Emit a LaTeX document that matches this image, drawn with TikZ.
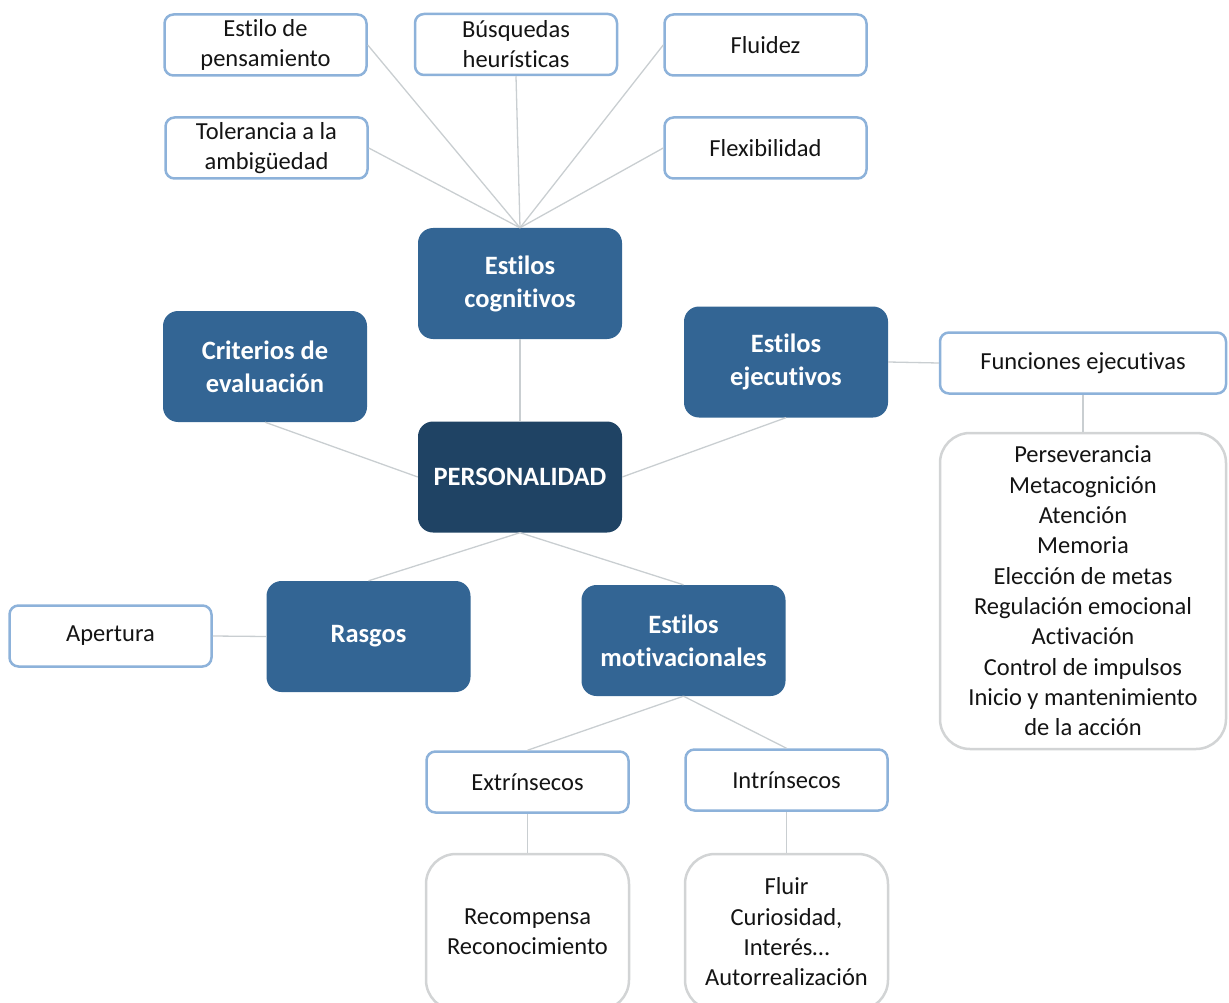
\documentclass[tikz,border=0pt]{standalone}
\usepackage{fontspec}
\setmainfont{Carlito}[Ligatures={NoCommon,NoContextual}]
\definecolor{darkfill}{HTML}{336594}
\definecolor{centerfill}{HTML}{1F4364}
\definecolor{lightborder}{HTML}{8DB2DA}
\definecolor{grayborder}{HTML}{D2D4D5}
\definecolor{linkgray}{HTML}{C9CED1}
\begin{document}
\begin{tikzpicture}[x=1pt,y=-1pt,
  lightbox/.style={draw=lightborder,line width=2.5pt,fill=white,rounded corners=9pt,
    minimum width=202pt,minimum height=61pt,inner sep=0pt,align=center,
    font=\fontsize{24.5}{30}\selectfont,text=black!92},
  darkbox/.style={fill=darkfill,rounded corners=15pt,minimum width=204pt,minimum height=111pt,
    inner sep=0pt,align=center,text=white,font=\fontsize{26.5}{33}\selectfont\bfseries},
  graybox/.style={draw=grayborder,line width=2.5pt,fill=white,rounded corners=30pt,
    inner sep=0pt,align=center,font=\fontsize{24.5}{30.3}\selectfont,text=black!92},
  link/.style={draw=linkgray,line width=1.3pt}]
\useasboundingbox (0,0) rectangle (1229,1003);
\node[lightbox] (pens) at (265.5,45) {Estilo de\\pensamiento};
\node[lightbox] (busq) at (516,44.5) {Búsquedas\\heurísticas};
\node[lightbox] (flui) at (765.5,45) {Fluidez};
\node[lightbox] (tole) at (266.5,148) {Tolerancia a la\\ambigüedad};
\node[lightbox] (flex) at (765.5,148) {Flexibilidad};
\node[darkbox] (cogn) at (520,283.5) {Estilos\\cognitivos};
\node[darkbox] (crit) at (265,366.5) {Criterios de\\evaluación};
\node[darkbox] (ejec) at (786,362) {Estilos\\ejecutivos};
\node[darkbox,fill=centerfill] (pers) at (520,477) {PERSONALIDAD};
\node[lightbox,minimum width=286pt] (func) at (1083,363) {Funciones ejecutivas};
\node[graybox,minimum width=286pt,minimum height=316pt] (list) at (1083,591)
  {Perseverancia\\Metacognición\\Atención\\Memoria\\Elección de metas\\Regulación emocional\\Activación\\Control de impulsos\\Inicio y mantenimiento\\de la acción};
\node[lightbox] (aper) at (110.5,636) {Apertura};
\node[darkbox] (rasg) at (368.5,636.5) {Rasgos};
\node[darkbox] (moti) at (683.5,640.5) {Estilos\\motivacionales};
\node[lightbox] (extr) at (527.5,782) {Extrínsecos};
\node[lightbox] (intr) at (786.5,780) {Intrínsecos};
\node[graybox,minimum width=203pt,minimum height=156pt] (reco) at (527.5,932)
  {Recompensa\\Reconocimiento};
\node[graybox,minimum width=203pt,minimum height=156pt] (flu2) at (786.5,932)
  {Fluir\\Curiosidad,\\Interés…\\Autorrealización};
\draw[link] (pens.east) -- (cogn.north);
\draw[link] (busq.south) -- (cogn.north);
\draw[link] (flui.west) -- (cogn.north);
\draw[link] (tole.east) -- (cogn.north);
\draw[link] (flex.west) -- (cogn.north);
\draw[link] (cogn.south) -- (pers.north);
\draw[link] (crit.south) -- (pers.west);
\draw[link] (ejec.south) -- (pers.east);
\draw[link] (pers.south) -- (rasg.north);
\draw[link] (pers.south) -- (moti.north);
\draw[link] (ejec.east) -- (func.west);
\draw[link] (func.south) -- (list.north);
\draw[link] (aper.east) -- (rasg.west);
\draw[link] (moti.south) -- (extr.north);
\draw[link] (moti.south) -- (intr.north);
\draw[link] (extr.south) -- (reco.north);
\draw[link] (intr.south) -- (flu2.north);
\end{tikzpicture}
\end{document}
